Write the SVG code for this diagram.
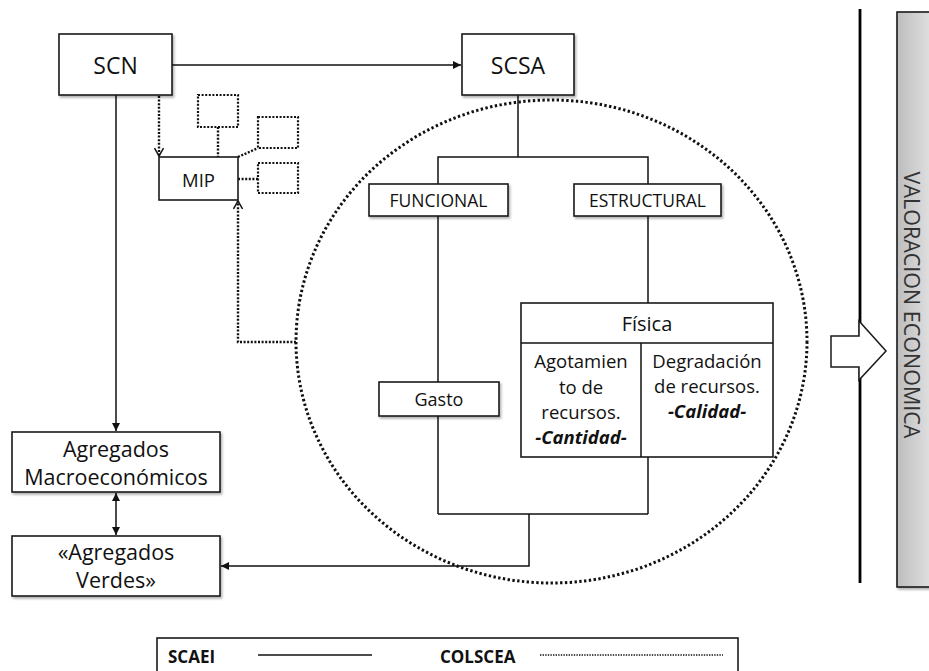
<svg xmlns="http://www.w3.org/2000/svg" width="929" height="671" viewBox="0 0 929 671">
<style>
text{font-family:"Open Sans","Liberation Sans",sans-serif;fill:#111}
.box{fill:#fff;stroke:#1a1a1a;stroke-width:1.6}
.sh{filter:url(#shadow)}
.solid{fill:none;stroke:#111;stroke-width:1.5}
.dot{fill:none;stroke:#111;stroke-width:2.4;stroke-dasharray:2 1.6}
.dotbox{fill:#fff;stroke:#111;stroke-width:2.2;stroke-dasharray:2 1.6}
.c{text-anchor:middle}
</style>
<defs>
<filter id="shadow" x="-10%" y="-10%" width="130%" height="140%">
<feDropShadow dx="1.5" dy="2" stdDeviation="1.2" flood-color="#000" flood-opacity="0.3"/>
</filter>
<marker id="arr" viewBox="0 0 10 10" refX="10" refY="5" markerWidth="8" markerHeight="8" orient="auto-start-reverse" markerUnits="userSpaceOnUse">
<path d="M0,0 L10,5 L0,10 z" fill="#111"/>
</marker>
<marker id="chev" viewBox="0 0 10 10" refX="9" refY="5" markerWidth="10" markerHeight="10" orient="auto" markerUnits="userSpaceOnUse">
<path d="M1,0.5 L9,5 L1,9.5" fill="none" stroke="#111" stroke-width="1.5"/>
</marker>
<linearGradient id="grey" x1="0" y1="0" x2="1" y2="0">
<stop offset="0" stop-color="#bdbdbd"/>
<stop offset="1" stop-color="#e6e6e6"/>
</linearGradient>
</defs>
<rect width="929" height="671" fill="#fff"/>

<g id="circle">
<ellipse cx="551.5" cy="341.5" rx="255.5" ry="241.5" fill="none" stroke="#111" stroke-width="3" stroke-dasharray="2.4 2.4"/>
</g>

<g id="connectors">
<line class="solid" x1="172" y1="65" x2="461" y2="65" marker-end="url(#arr)"/>
<line class="solid" x1="116" y1="95" x2="116" y2="431" marker-end="url(#arr)"/>
<line class="solid" x1="116" y1="493" x2="116" y2="535" marker-start="url(#arr)" marker-end="url(#arr)"/>
<polyline class="solid" points="529,514 529,566 221,566" marker-end="url(#arr)"/>
<line class="solid" x1="518" y1="95" x2="518" y2="157"/>
<polyline class="solid" points="438,184 438,157 648,157 648,184"/>
<line class="solid" x1="438" y1="216" x2="438" y2="382"/>
<line class="solid" x1="438" y1="416" x2="438" y2="514"/>
<line class="solid" x1="648" y1="216" x2="648" y2="303"/>
<line class="solid" x1="648" y1="457" x2="648" y2="514"/>
<line class="solid" x1="438" y1="514" x2="648" y2="514"/>
<line class="dot" x1="159" y1="96" x2="159" y2="156" marker-end="url(#chev)"/>
<polyline class="dot" points="296,342 238,342 238,201" marker-end="url(#chev)"/>
<line class="dot" x1="218" y1="127" x2="218" y2="157"/>
<line class="dot" x1="238" y1="157" x2="258" y2="148"/>
<line class="dot" x1="238" y1="179" x2="258" y2="179"/>
</g>

<g id="SCN">
<rect class="box sh" x="59" y="34" width="113" height="61"/>
<text class="c" x="115.5" y="74" font-size="23">SCN</text>
</g>
<g id="SCSA">
<rect class="box sh" x="462" y="34" width="112" height="61"/>
<text class="c" x="518" y="74" font-size="23">SCSA</text>
</g>
<g id="MIP">
<rect class="box" x="159" y="157" width="79" height="43"/>
<text class="c" x="198.5" y="187" font-size="18.5">MIP</text>
</g>
<g id="mip-sub1"><rect class="dotbox" x="198" y="95" width="40" height="32"/></g>
<g id="mip-sub2"><rect class="dotbox" x="258" y="117" width="40" height="31"/></g>
<g id="mip-sub3"><rect class="dotbox" x="258" y="163" width="40" height="30"/></g>

<g id="FUNCIONAL">
<rect class="box sh" x="369" y="184" width="139" height="32"/>
<text class="c" x="438.5" y="207" font-size="17.5">FUNCIONAL</text>
</g>
<g id="ESTRUCTURAL">
<rect class="box sh" x="574" y="184" width="147" height="32"/>
<text class="c" x="647.5" y="207" font-size="17.5">ESTRUCTURAL</text>
</g>
<g id="Gasto">
<rect class="box sh" x="379" y="382" width="120" height="34"/>
<text class="c" x="439" y="406" font-size="18">Gasto</text>
</g>
<g id="Fisica">
<rect class="box" x="521" y="303" width="252" height="154"/>
<line class="solid" x1="521" y1="343" x2="773" y2="343"/>
<line class="solid" x1="641" y1="343" x2="641" y2="457"/>
<text class="c" x="647" y="331" font-size="20">Física</text>
<text class="c" x="581" font-size="18.5"><tspan x="581" y="368">Agotamien</tspan><tspan x="581" y="394">to de</tspan><tspan x="581" y="419">recursos.</tspan><tspan x="581" y="444" font-weight="bold" font-style="italic">-Cantidad-</tspan></text>
<text class="c" x="707" font-size="18.5"><tspan x="707" y="368">Degradación</tspan><tspan x="707" y="393">de recursos.</tspan><tspan x="707" y="418" font-weight="bold" font-style="italic">-Calidad-</tspan></text>
</g>

<g id="AgregadosMacro">
<rect class="box sh" x="12" y="432" width="208" height="60"/>
<text class="c" font-size="21.5"><tspan x="116" y="457">Agregados</tspan><tspan x="116" y="485">Macroeconómicos</tspan></text>
</g>
<g id="AgregadosVerdes">
<rect class="box sh" x="12" y="536" width="208" height="60"/>
<text class="c" font-size="21.5"><tspan x="116" y="560">«Agregados</tspan><tspan x="116" y="588">Verdes»</tspan></text>
</g>

<g id="divider">
<line x1="860" y1="9" x2="860" y2="583" stroke="#000" stroke-width="2.8"/>
</g>
<g id="bigArrow">
<path d="M831,336 L859,336 L859,321 L886,351 L859,380 L859,367 L831,367 Z" fill="#fff" stroke="#1a1a1a" stroke-width="1.5"/>
</g>
<g id="Valoracion">
<rect x="897" y="12" width="40" height="575" fill="url(#grey)" stroke="#1a1a1a" stroke-width="1.6" class="sh"/>
<text class="c" transform="translate(904,305) rotate(90)" x="0" y="0" font-size="21.5" style="fill:#333">VALORACION ECONOMICA</text>
</g>

<g id="legend">
<rect x="157" y="638" width="581" height="45" fill="#fff" stroke="#1a1a1a" stroke-width="1.6"/>
<text x="168" y="663" font-size="17" font-weight="bold">SCAEI</text>
<line x1="258" y1="655" x2="372" y2="655" stroke="#111" stroke-width="1.3"/>
<text x="440" y="663" font-size="17" font-weight="bold">COLSCEA</text>
<line x1="540" y1="655" x2="723" y2="655" stroke="#111" stroke-width="1.6" stroke-dasharray="1.4 1.2"/>
</g>
</svg>
